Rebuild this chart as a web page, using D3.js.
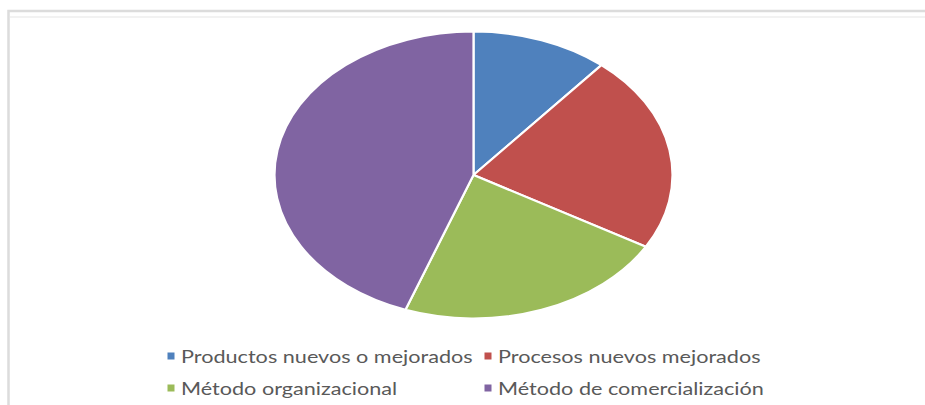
<!DOCTYPE html>
<html>
<head>
<meta charset="utf-8">
<script src="https://cdn.jsdelivr.net/npm/d3@7"></script>
<style>
  html, body { margin: 0; padding: 0; background: #ffffff; }
  svg { display: block; }
</style>
</head>
<body>
<svg id="chart" width="925" height="405"></svg>
<script>
// Tipos de innovación
const categories = [
  "Productos nuevos o mejorados",
  "Procesos nuevos mejorados",
  "Método organizacional",
  "Método de comercialización"
];
const values = [5, 10, 10, 20];
const colors = ["#4F81BD", "#C0504D", "#9BBB59", "#8064A2"];

const svg = d3.select("#chart");

// chart area frame
svg.append("rect")
  .attr("x", 8.5).attr("y", 11)
  .attr("width", 960).attr("height", 440)
  .attr("fill", "none")
  .attr("stroke", "#dcdcdc")
  .attr("stroke-width", 2.5);
svg.append("line")
  .attr("x1", 10).attr("x2", 925).attr("y1", 17).attr("y2", 17)
  .attr("stroke", "#f2f2f2").attr("stroke-width", 2);

// pie, drawn as a circle and stretched horizontally into an ellipse
const ry = 143.5, rx = 199;
const cx = 473.5, cy = 175;

const pie = d3.pie().sort(null).value(d => d)(values);
const arc = d3.arc().innerRadius(0).outerRadius(ry);

const g = svg.append("g")
  .attr("transform", `translate(${cx},${cy}) scale(${rx / ry},1)`);

g.selectAll("path")
  .data(pie)
  .join("path")
  .attr("d", arc)
  .attr("fill", (d, i) => colors[i])
  .attr("stroke", "#ffffff")
  .attr("stroke-width", 2.2)
  .attr("vector-effect", "non-scaling-stroke");

// legend: two columns, two rows
const legendCols = [171, 488];
const legendRows = [356, 388];
const legend = svg.append("g");

const items = legend.selectAll("g")
  .data(categories)
  .join("g")
  .attr("transform", (d, i) => `translate(${legendCols[i % 2]},${legendRows[Math.floor(i / 2)]})`);

items.append("rect")
  .attr("x", -3.5).attr("y", -3.5)
  .attr("width", 7).attr("height", 7)
  .attr("fill", (d, i) => colors[i]);

const texts = items.append("text")
  .attr("x", 10)
  .attr("y", 6.5)
  .attr("font-family", "Lato, 'Open Sans', sans-serif")
  .attr("font-size", 17)
  .attr("fill", "#595959")
  .text(d => d);

// the legend text shares the chart's horizontal stretch
const w0 = texts.nodes()[0].getComputedTextLength();
const stretch = 292 / w0;
texts.attr("transform", `scale(${stretch},1)`)
  .attr("x", 10 / stretch);
</script>
</body>
</html>
